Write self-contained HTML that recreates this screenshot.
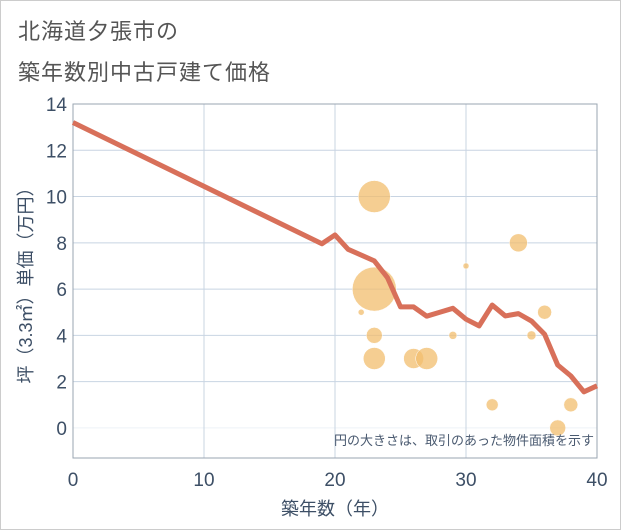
<!DOCTYPE html>
<html><head><meta charset="utf-8"><style>
body{margin:0;background:#fff;}
#card{position:absolute;left:0;top:0;width:619px;height:528px;border:1px solid #ccc;background:#fff;font-family:"Liberation Sans","Noto Sans CJK JP",sans-serif;}
.t{position:absolute;left:17px;color:#555;font-size:22px;letter-spacing:1px;}
</style></head><body>
<div id="card">
<div class="t" style="top:13px">北海道夕張市の</div>
<div class="t" style="top:54px">築年数別中古戸建て価格</div>
<svg id="chart" width="621" height="530" style="position:absolute;left:0;top:0"></svg>
</div>
<script>
const lineX=[0,19,20,21,23,24,25,26,27,28,29,30,31,32,33,34,35,36,37,38,39,40];
const lineY=[13.2,7.96,8.34,7.72,7.22,6.5,5.23,5.23,4.83,5.0,5.17,4.7,4.41,5.31,4.84,4.94,4.62,4.05,2.72,2.25,1.56,1.82];
const bubX=[23,23,22,23,23,26,27,30,29,34,36,35,32,38,37];
const bubY=[10,6,5,4,3,3,3,7,4,8,5,4,1,1,0];
const bubR=[16,22,3,8,11,10,11,3,4,9,7,4.5,6,7,8];
const xTicks=[0,10,20,30,40];
const yTicks=[0,2,4,6,8,10,12,14];
const L=72,R=596,T=103,B=457,xmin=0,xmax=40,ymin=-1.3,ymax=14;
const sx=v=>L+(v-xmin)/(xmax-xmin)*(R-L);
const sy=v=>B-(v-ymin)/(ymax-ymin)*(B-T);
const svg=document.getElementById('chart');
const NS='http://www.w3.org/2000/svg';
function mk(tag,at){const e=document.createElementNS(NS,tag);for(const k in at)e.setAttribute(k,at[k]);svg.appendChild(e);return e;}
yTicks.forEach(v=>{
 const g=mk('line',{x1:L,x2:R,y1:sy(v),y2:sy(v),stroke:v===0?'#eef2f6':'#c8d4e2','stroke-width':1});
 
 
 const t=mk('text',{x:L-6,y:sy(v)+7,'text-anchor':'end','font-size':19,fill:'#3d4f66','font-family':'Liberation Sans,sans-serif'});
 t.textContent=v;
 
 
});
xTicks.forEach(v=>{
 const g=mk('line',{x1:sx(v),x2:sx(v),y1:T,y2:B,stroke:'#c8d4e2','stroke-width':1});
 
 
 const t=mk('text',{x:sx(v),y:B+28,'text-anchor':'middle','font-size':19,fill:'#3d4f66','font-family':'Liberation Sans,sans-serif'});
 t.textContent=v;
 
 
});
const fr=mk('rect',{x:L,y:T,width:R-L,height:B-T,fill:'none',stroke:'#9aa5b1','stroke-width':1});


bubX.forEach((x,i)=>{
 const c=mk('circle',{cx:sx(x),cy:sy(bubY[i]),r:bubR[i],fill:'rgba(242,190,110,0.75)',stroke:'#fff','stroke-width':0.5});
 
 
});
const p=mk('polyline',{points:lineX.map((x,i)=>sx(x)+','+sy(lineY[i])).join(' '),fill:'none',stroke:'#d8705a','stroke-width':5,'stroke-linejoin':'round'});


const note=mk('text',{x:R-3,y:B-13,'text-anchor':'end','font-size':13,fill:'#4a5a70','font-family':'Liberation Sans,Noto Sans CJK JP,sans-serif'});
note.textContent='円の大きさは、取引のあった物件面積を示す';


const xt=mk('text',{x:(L+R)/2,y:514,'text-anchor':'middle','font-size':18,fill:'#3d4f66','font-family':'Liberation Sans,Noto Sans CJK JP,sans-serif'});
xt.textContent='築年数（年）';


const yt=mk('text',{x:0,y:0,'text-anchor':'middle','font-size':18,fill:'#3d4f66','font-family':'Liberation Sans,Noto Sans CJK JP,sans-serif',transform:'translate(31,280) rotate(-90)'});
yt.textContent='坪（3.3㎡）単価（万円）';


</script>
</body></html>
